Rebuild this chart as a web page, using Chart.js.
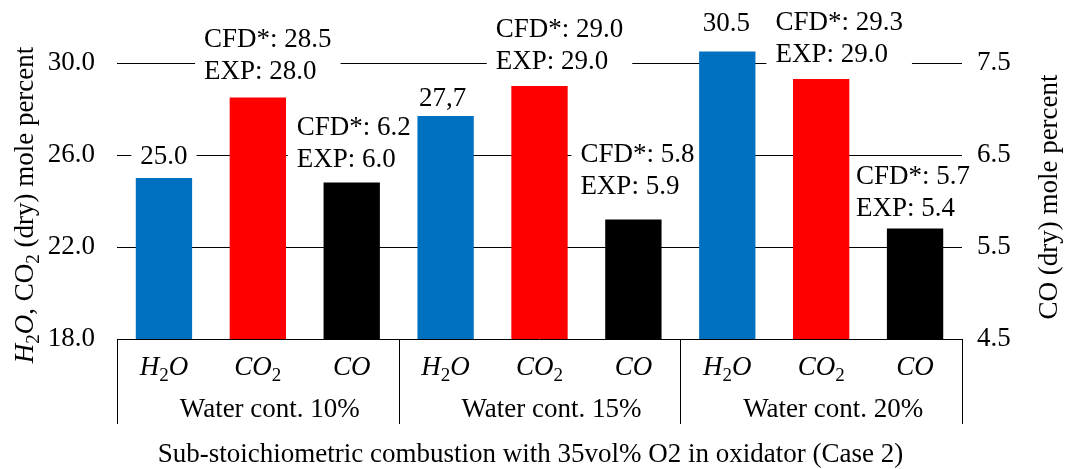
<!DOCTYPE html>
<html>
<head>
<meta charset="utf-8">
<script src="https://cdn.jsdelivr.net/npm/chart.js@4.4.1/dist/chart.umd.min.js"></script>
<style>
  html, body { margin: 0; padding: 0; background: #fff; }
</style>
</head>
<body>
<canvas id="gasChart" width="1065" height="469"></canvas>
<script>
// values
const groups = ['Water cont. 10%', 'Water cont. 15%', 'Water cont. 20%'];
const h2oCfd = [25.0, 27.7, 30.5];
const h2oText = ['25.0', '27,7', '30.5'];
const co2Cfd = [28.5, 29.0, 29.3];
const co2Exp = [28.0, 29.0, 29.0];
const coCfd = [6.2, 5.8, 5.7];
const coExp = [6.0, 5.9, 5.4];
const leftTicks = [18, 22, 26, 30];
const rightTicks = [4.5, 5.5, 6.5, 7.5];

const FONT = 'Liberation Serif';
const SIZE = 27;

// one slot per bar, three per group
const labels = [];
const leftData = [];
const rightData = [];
const leftColors = [];
groups.forEach((g, i) => {
    labels.push('H2O', 'CO2', 'CO');
    leftData.push(h2oCfd[i], co2Cfd[i], null);
    rightData.push(null, null, coCfd[i]);
    leftColors.push('#0070C0', '#FF0000', 'rgba(0,0,0,0)');
});

// text parts for rich labels
const catParts = {
    H2O: [{t: 'H', it: true}, {t: '2', sub: true}, {t: 'O', it: true}],
    CO2: [{t: 'CO', it: true}, {t: '2', sub: true}],
    CO: [{t: 'CO', it: true}]
};
const leftTitle = [{t: 'H', it: true}, {t: '2', sub: true}, {t: 'O', it: true},
    {t: ', CO'}, {t: '2', sub: true}, {t: ' (dry) mole percent'}];
const rightTitle = [{t: 'CO (dry) mole percent'}];

// label nudges (dx, dy of label centre from bar top), as placed in the original
const nudge = [[0, -23], [10, -43], [2, -41], [-3, -19], [20, -42], [4, -50], [-1, -29], [18, -42], [-2, -38]];

function barText(i) {
    const g = Math.floor(i / 3), k = i % 3;
    if (k === 0) return [h2oText[g]];
    if (k === 1) return ['CFD*: ' + co2Cfd[g].toFixed(1), 'EXP: ' + co2Exp[g].toFixed(1)];
    return ['CFD*: ' + coCfd[g].toFixed(1), 'EXP: ' + coExp[g].toFixed(1)];
}

function partFont(p) {
    return (p.it ? 'italic ' : '') + (p.sub ? Math.round(SIZE * 0.7) : SIZE) + 'px "' + FONT + '"';
}

function richWidth(ctx, parts) {
    let w = 0;
    parts.forEach(p => { ctx.font = partFont(p); w += ctx.measureText(p.t).width; });
    return w;
}

function drawRich(ctx, parts, x, y) {
    let cx = x - richWidth(ctx, parts) / 2;
    ctx.textAlign = 'left';
    ctx.textBaseline = 'alphabetic';
    parts.forEach(p => {
        ctx.font = partFont(p);
        ctx.fillText(p.t, cx, p.sub ? y + SIZE * 0.22 : y);
        cx += ctx.measureText(p.t).width;
    });
}

// where each value label block sits
function labelBox(chart, ctx, i) {
    const meta = chart.getDatasetMeta(i % 3 === 2 ? 1 : 0);
    const bar = meta.data[i];
    const lines = barText(i);
    ctx.font = SIZE + 'px "' + FONT + '"';
    const maxW = Math.max(...lines.map(l => ctx.measureText(l).width));
    const cx = bar.x + nudge[i][0];
    const cy = bar.y + nudge[i][1];
    return {
        lines: lines,
        left: cx - maxW / 2,
        width: maxW,
        firstC: cy - (lines.length - 1) * 16,
        lastC: cy + (lines.length - 1) * 16
    };
}

const annotate = {
    id: 'annotate',
    beforeDatasetsDraw(chart) {
        // white label backgrounds hide the gridlines but stay under the bars
        const ctx = chart.ctx;
        ctx.save();
        ctx.fillStyle = '#fff';
        for (let i = 0; i < labels.length; i++) {
            const b = labelBox(chart, ctx, i);
            ctx.fillRect(b.left - 9, b.firstC - 16, b.width + 18, b.lastC - b.firstC + 31);
        }
        ctx.restore();
    },
    afterDatasetsDraw(chart) {
        const ctx = chart.ctx;
        const xs = chart.scales.x;
        const area = chart.chartArea;
        ctx.save();
        ctx.fillStyle = '#000';

        // value labels
        for (let i = 0; i < labels.length; i++) {
            const b = labelBox(chart, ctx, i);
            ctx.textAlign = 'left';
            ctx.textBaseline = 'alphabetic';
            b.lines.forEach((l, j) => ctx.fillText(l, b.left, b.firstC + j * 32 + SIZE * 0.33));
        }

        // multi level category axis
        for (let i = 0; i < labels.length; i++) {
            drawRich(ctx, catParts[labels[i]], xs.getPixelForValue(i), 375);
        }
        ctx.font = SIZE + 'px "' + FONT + '"';
        ctx.textAlign = 'center';
        groups.forEach((g, j) => ctx.fillText(g, xs.getPixelForValue(j * 3 + 1) + 12, 417));

        const seps = [area.left, (xs.getPixelForValue(2) + xs.getPixelForValue(3)) / 2,
            (xs.getPixelForValue(5) + xs.getPixelForValue(6)) / 2, area.right];
        ctx.strokeStyle = '#000';
        ctx.lineWidth = 1;
        ctx.beginPath();
        seps.forEach(x => {
            const px = Math.round(x) + 0.5;
            ctx.moveTo(px, area.bottom);
            ctx.lineTo(px, 424);
        });
        ctx.stroke();

        // axis titles
        ctx.font = SIZE + 'px "' + FONT + '"';
        ctx.textAlign = 'center';
        ctx.fillText('Sub-stoichiometric combustion with 35vol% O2 in oxidator (Case 2)', chart.width / 2 - 2, 462);

        ctx.save();
        ctx.translate(33, 205);
        ctx.rotate(-Math.PI / 2);
        drawRich(ctx, leftTitle, 0, 0);
        ctx.restore();

        ctx.save();
        ctx.translate(1057, 197);
        ctx.rotate(-Math.PI / 2);
        drawRich(ctx, rightTitle, 0, 0);
        ctx.restore();

        ctx.restore();
    }
};

const chart = new Chart(document.getElementById('gasChart').getContext('2d'), {
    type: 'bar',
    data: {
        labels: labels,
        datasets: [{
            label: 'H2O, CO2',
            data: leftData,
            backgroundColor: leftColors,
            yAxisID: 'y',
            grouped: false,
            barPercentage: 0.6,
            categoryPercentage: 1
        }, {
            label: 'CO',
            data: rightData,
            backgroundColor: '#000000',
            yAxisID: 'y1',
            grouped: false,
            barPercentage: 0.6,
            categoryPercentage: 1
        }]
    },
    options: {
        responsive: false,
        animation: false,
        layout: {
            padding: {top: 17, bottom: 130, left: 0, right: 0}
        },
        plugins: {
            legend: {display: false},
            tooltip: {enabled: false}
        },
        scales: {
            x: {
                display: false
            },
            y: {
                position: 'left',
                min: 18,
                max: 32,
                border: {display: false},
                grid: {color: '#000', lineWidth: 1, drawTicks: false},
                ticks: {
                    padding: 22,
                    color: '#000',
                    font: {family: FONT, size: SIZE},
                    callback: v => Number(v).toFixed(1)
                },
                afterBuildTicks: s => { s.ticks = leftTicks.map(v => ({value: v})); },
                afterFit: s => { s.width = 117; s.paddingTop = 0; s.paddingBottom = 0; }
            },
            y1: {
                position: 'right',
                min: 4.5,
                max: 8.0,
                border: {display: false},
                grid: {display: false, drawTicks: false},
                ticks: {
                    padding: 15,
                    color: '#000',
                    font: {family: FONT, size: SIZE},
                    callback: v => Number(v).toFixed(1)
                },
                afterBuildTicks: s => { s.ticks = rightTicks.map(v => ({value: v})); },
                afterFit: s => { s.width = 103; s.paddingTop = 0; s.paddingBottom = 0; }
            }
        }
    },
    plugins: [annotate]
});
</script>
</body>
</html>
